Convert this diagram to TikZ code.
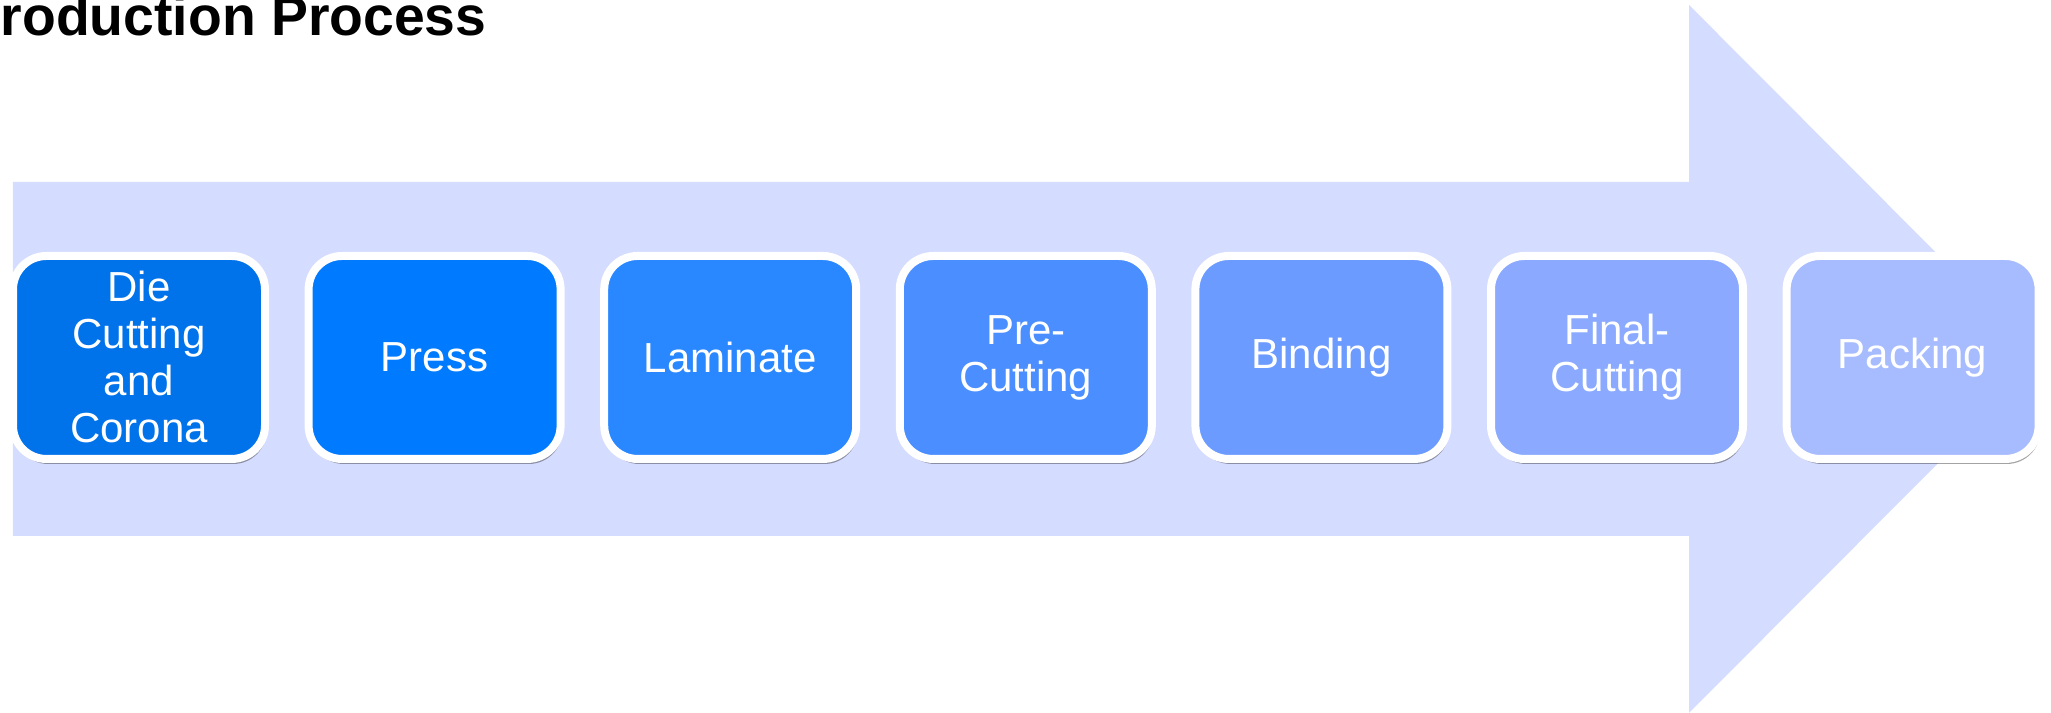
\documentclass[tikz,border=0pt]{standalone}
\usepackage{fontspec}
\setmainfont{Liberation Sans}
\usetikzlibrary{shadows}
\definecolor{arrowblue}{RGB}{212,220,255}
\definecolor{step1}{RGB}{0,114,234}
\definecolor{step2}{RGB}{0,122,255}
\definecolor{step3}{RGB}{41,135,255}
\definecolor{step4}{RGB}{74,142,255}
\definecolor{step5}{RGB}{108,155,255}
\definecolor{step6}{RGB}{139,170,255}
\definecolor{step7}{RGB}{167,187,255}
\begin{document}
\begin{tikzpicture}[>=latex,
	stepbox/.style={rectangle,rounded corners=10pt,draw=white,line width=2.4pt,
		minimum width=2.657cm,minimum height=2.140cm,inner sep=0pt,align=center,
		text=white,font=\fontsize{12.6}{14.1}\selectfont,
		drop shadow={shadow xshift=0.5pt,shadow yshift=-1.5pt,opacity=0.45,fill=black!80}}]
			\def\a{3.1167}
			\def\yc{3.748}
			\useasboundingbox (0,0) rectangle (21.625,7.517);
			% big arrow behind the steps
			\fill[arrowblue] (0.137,1.866) -- (17.808,1.866) -- (17.808,0) -- (21.530,3.732) -- (17.808,7.465) -- (17.808,5.599) -- (0.137,5.599) -- cycle;
			\node[anchor=base west,inner sep=0pt,font=\fontsize{16.6}{18}\selectfont\bfseries] (title) at (0,7.14) {roduction Process};
			\foreach \i/\txt in {1/{Die\\Cutting\\and\\Corona},2/Press,3/Laminate,4/{Pre-\\Cutting},5/Binding,6/{Final-\\Cutting},7/Packing}
			{
				\node[stepbox,fill=step\i] (s\i) at ({1.4656+(\i-1)*\a},\yc) {\txt};
			}
		\end{tikzpicture}
\end{document}
